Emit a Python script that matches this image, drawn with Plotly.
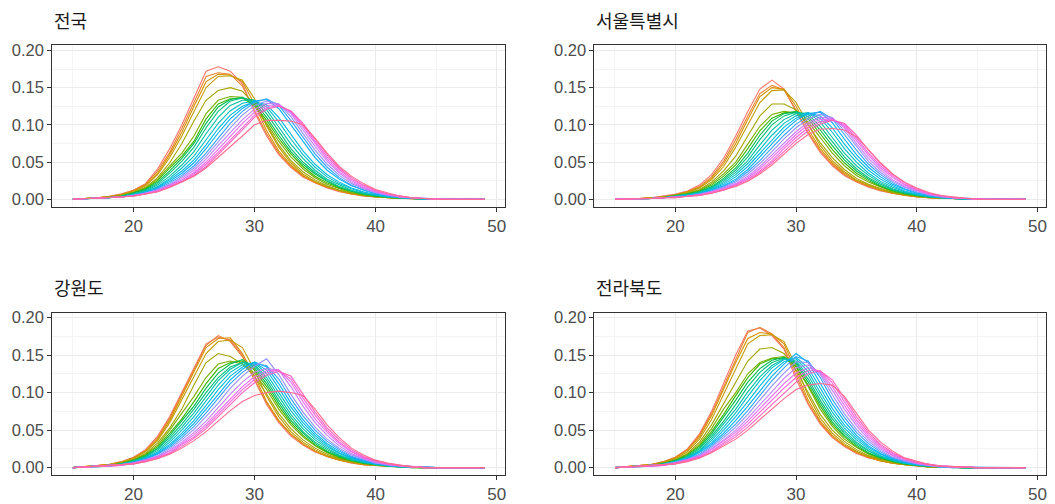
import plotly.graph_objects as go

# Single-year ages of mother
AGES = list(range(15, 50))
# One curve per year, oldest first
YEARS = list(range(2000, 2020))
# ggplot-style hue palette, one colour per year
PALETTE = ["#F8766D", "#EA8331", "#D89000", "#C09B00", "#A3A500", "#7CAE00",
           "#39B600", "#00BB4E", "#00BF7D", "#00C1A3", "#00BFC4", "#00BAE0",
           "#00B0F6", "#35A2FF", "#9590FF", "#C77CFF", "#E76BF3", "#FA62DB",
           "#FF62BC", "#FF6C91"]
REGIONS = ["전국", "서울특별시", "강원도", "전라북도"]
Y_TICKS = [0.00, 0.05, 0.10, 0.15, 0.20]
X_TICKS = [20, 30, 40, 50]

# Share of births by mother's age, per mille (rows = years, cols = ages 15..49)
NATIONAL = [
    [0,1,2,4,7,12,21,41,68,100,135,172,178,172,155,117,85,60,43,30,22,15,10,7,4,3,2,1,1,0,0,0,0,0,0],
    [0,1,2,4,7,12,20,38,63,95,130,165,170,168,152,120,88,62,44,31,22,16,11,7,5,3,2,1,1,0,0,0,0,0,0],
    [0,1,2,3,6,11,19,35,60,90,125,158,168,167,158,128,92,65,46,32,23,16,11,7,5,3,2,1,1,0,0,0,0,0,0],
    [0,1,2,3,6,10,18,33,56,85,118,150,165,166,160,135,98,70,49,34,24,17,12,8,5,3,2,1,1,0,0,0,0,0,0],
    [0,1,1,3,5,9,16,29,49,75,105,133,146,150,145,128,100,73,52,37,26,18,12,8,5,3,2,1,1,0,0,0,0,0,0],
    [0,1,1,3,5,9,15,27,45,62,85,115,133,138,137,125,102,78,57,41,29,20,14,9,6,4,2,1,1,0,0,0,0,0,0],
    [0,1,1,2,4,8,14,25,42,58,78,108,128,135,136,127,106,82,61,44,31,22,15,10,6,4,2,1,1,0,0,0,0,0,0],
    [0,1,1,2,4,8,13,23,38,55,75,102,124,134,137,130,110,86,64,47,34,24,16,11,7,4,3,2,1,0,0,0,0,0,0],
    [0,1,1,2,4,7,12,21,35,51,70,96,118,132,136,133,115,91,68,50,36,25,17,11,7,5,3,2,1,0,0,0,0,0,0],
    [0,1,1,2,4,7,11,19,31,46,64,88,110,126,133,133,120,97,74,55,39,27,19,12,8,5,3,2,1,0,0,0,0,0,0],
    [0,1,1,2,3,6,10,17,28,42,58,80,102,119,129,132,124,104,81,60,43,30,21,14,9,6,3,2,1,0,0,0,0,0,0],
    [0,1,1,2,3,6,10,16,26,38,53,73,95,113,125,131,127,110,87,65,47,33,23,15,10,6,4,2,1,1,0,0,0,0,0],
    [0,1,1,2,3,5,9,15,24,35,49,68,89,108,122,132,134,122,100,77,56,39,27,18,12,7,4,2,1,1,0,0,0,0,0],
    [0,1,1,2,3,5,8,14,22,32,45,62,82,102,118,130,135,126,106,83,61,43,29,19,12,8,5,3,1,1,0,0,0,0,0],
    [0,1,1,2,3,5,8,13,20,30,42,58,77,96,113,126,132,128,111,88,66,47,32,21,14,9,5,3,2,1,0,0,0,0,0],
    [0,1,1,2,3,5,8,12,19,28,39,54,72,90,107,121,129,128,115,93,71,51,35,23,15,9,6,3,2,1,0,0,0,0,0],
    [0,1,1,2,3,5,7,11,18,26,36,50,67,85,102,117,126,127,117,97,75,54,37,25,16,10,6,3,2,1,0,0,0,0,0],
    [0,1,1,2,3,5,7,11,17,24,34,47,63,80,97,113,123,126,118,100,78,57,40,27,18,11,7,4,2,1,0,0,0,0,0],
    [0,1,1,2,3,4,7,10,16,23,32,44,60,77,94,110,121,125,119,102,81,60,42,29,19,12,7,4,2,1,0,0,0,0,0],
    [0,1,1,2,3,4,7,10,16,23,31,42,56,70,85,100,106,106,105,100,82,62,44,31,21,13,8,4,2,1,0,0,0,0,0],
]

SEOUL = [
    [0,0,1,2,4,7,11,19,33,55,85,118,148,160,148,118,88,63,45,32,23,16,11,8,5,3,2,1,1,0,0,0,0,0,0],
    [0,0,1,2,3,6,10,17,30,51,80,112,142,153,147,120,90,65,47,33,24,17,12,8,5,3,2,1,1,0,0,0,0,0,0],
    [0,0,1,2,3,6,10,16,28,48,75,107,138,150,148,125,94,68,49,35,25,18,12,8,5,3,2,1,1,0,0,0,0,0,0],
    [0,0,1,2,3,5,9,15,26,44,70,100,130,146,147,130,100,72,52,37,26,19,13,9,6,4,2,1,1,0,0,0,0,0,0],
    [0,0,1,1,3,5,8,13,23,38,58,85,112,128,128,120,100,76,56,40,28,20,14,9,6,4,2,1,1,0,0,0,0,0,0],
    [0,0,1,1,3,5,8,12,21,34,50,74,98,114,118,116,104,83,62,45,32,23,16,10,7,4,3,2,1,0,0,0,0,0,0],
    [0,0,1,1,2,4,7,11,19,31,46,68,92,109,116,117,108,88,67,49,35,25,17,11,7,5,3,2,1,0,0,0,0,0,0],
    [0,0,1,1,2,4,7,10,17,28,42,62,86,105,115,118,111,93,72,53,38,27,18,12,8,5,3,2,1,0,0,0,0,0,0],
    [0,0,1,1,2,4,6,10,16,26,39,57,80,100,112,117,114,98,77,57,41,29,20,13,8,5,3,2,1,0,0,0,0,0,0],
    [0,0,1,1,2,4,6,9,15,24,36,52,73,93,107,115,116,104,83,62,45,32,22,14,9,6,3,2,1,0,0,0,0,0,0],
    [0,0,1,1,2,3,5,8,14,22,33,48,67,86,102,112,116,109,90,68,50,35,24,16,10,6,4,2,1,0,0,0,0,0,0],
    [0,0,1,1,2,3,5,8,13,20,30,44,62,80,97,109,116,112,96,74,55,39,27,18,11,7,4,2,1,1,0,0,0,0,0],
    [0,0,1,1,2,3,5,7,12,18,27,40,57,75,92,106,115,117,103,81,60,43,30,20,13,8,5,3,1,1,0,0,0,0,0],
    [0,0,1,1,2,3,5,7,11,17,25,37,52,69,86,101,112,118,108,87,66,47,33,22,14,9,5,3,2,1,0,0,0,0,0],
    [0,0,1,1,2,3,4,7,10,16,23,34,48,64,81,96,108,114,110,92,71,51,36,24,16,10,6,3,2,1,0,0,0,0,0],
    [0,0,1,1,2,3,4,6,10,15,21,31,44,60,76,91,103,110,109,96,75,55,39,26,17,11,6,4,2,1,0,0,0,0,0],
    [0,0,1,1,2,3,4,6,9,14,20,29,41,56,72,87,100,107,108,98,79,59,42,29,19,12,7,4,2,1,0,0,0,0,0],
    [0,0,1,1,2,3,4,6,9,13,19,27,38,52,68,83,96,104,107,100,82,62,45,31,20,13,8,4,2,1,0,0,0,0,0],
    [0,0,1,1,2,2,4,5,8,12,18,25,36,49,64,79,92,101,106,102,86,66,48,33,22,14,8,5,2,1,0,0,0,0,0],
    [0,0,1,1,2,2,4,5,8,12,17,24,34,46,60,75,87,94,95,93,84,66,49,34,23,15,9,5,3,1,0,0,0,0,0],
]

GANGWON = [
    [0,1,2,4,8,14,24,42,68,100,132,165,174,170,150,116,84,60,42,30,21,15,10,6,4,3,2,1,0,0,0,0,0,0,0],
    [0,1,2,4,8,13,23,40,66,98,130,163,176,168,148,118,86,62,44,31,22,15,10,7,4,3,2,1,0,0,0,0,0,0,0],
    [0,1,2,4,7,13,22,38,63,95,128,160,172,173,152,122,88,63,45,32,22,15,10,7,4,3,2,1,0,0,0,0,0,0,0],
    [0,1,2,4,7,12,21,36,60,90,122,152,168,170,160,130,95,68,48,34,24,16,11,7,5,3,2,1,0,0,0,0,0,0,0],
    [0,1,1,3,6,11,19,33,53,78,110,140,152,148,138,122,98,72,52,37,26,18,12,8,5,3,2,1,0,0,0,0,0,0,0],
    [0,1,1,3,6,10,18,30,50,72,95,120,138,142,138,126,104,78,57,41,29,20,13,9,6,4,2,1,0,0,0,0,0,0,0],
    [0,1,1,3,5,10,17,28,46,65,88,112,132,140,142,130,108,82,60,43,30,21,14,9,6,4,2,1,0,0,0,0,0,0,0],
    [0,1,1,3,5,9,16,26,43,62,82,106,126,138,144,133,112,86,63,46,32,22,15,10,6,4,2,1,0,0,0,0,0,0,0],
    [0,1,1,2,5,9,15,25,40,58,78,100,120,134,140,136,116,90,67,48,34,24,16,10,7,4,2,1,0,0,0,0,0,0,0],
    [0,1,1,2,5,8,14,23,37,54,73,95,116,131,140,138,120,95,71,52,37,26,17,11,7,4,3,1,1,0,0,0,0,0,0],
    [0,1,1,2,4,8,13,21,34,50,68,89,110,127,137,140,125,100,76,56,40,28,19,12,8,5,3,1,1,0,0,0,0,0,0],
    [0,1,1,2,4,7,12,20,31,46,63,83,104,122,134,140,130,106,81,60,43,30,20,13,8,5,3,2,1,0,0,0,0,0,0],
    [0,1,1,2,4,7,12,19,29,43,59,78,98,117,131,141,134,112,86,64,46,32,22,14,9,5,3,2,1,0,0,0,0,0,0],
    [0,1,1,2,4,7,11,18,27,40,55,73,92,112,127,138,136,118,92,69,50,35,24,15,10,6,3,2,1,0,0,0,0,0,0],
    [0,1,1,2,4,6,10,16,25,37,51,68,86,106,122,135,145,124,98,74,54,38,26,17,11,6,4,2,1,0,0,0,0,0,0],
    [0,1,1,2,3,6,10,15,23,34,47,62,80,98,114,127,132,130,108,82,60,43,29,19,12,7,4,2,1,0,0,0,0,0,0],
    [0,1,1,2,3,6,9,14,22,32,44,58,75,92,108,121,129,130,114,88,65,47,32,21,13,8,5,2,1,0,0,0,0,0,0],
    [0,1,1,2,3,5,9,13,20,30,41,55,71,88,104,117,126,130,118,93,70,50,34,22,14,9,5,3,1,0,0,0,0,0,0],
    [0,1,1,2,3,5,8,13,19,28,39,52,68,84,100,113,123,128,122,98,74,53,37,24,15,9,5,3,1,0,0,0,0,0,0],
    [0,1,1,2,3,5,8,12,18,26,36,48,62,76,88,96,100,102,100,96,78,57,40,26,17,10,6,3,1,0,0,0,0,0,0],
]

JEONBUK = [
    [0,1,2,4,8,14,25,45,75,112,150,182,186,176,158,118,84,58,40,28,19,13,9,6,4,2,1,1,0,0,0,0,0,0,0],
    [0,1,2,4,8,14,24,43,72,108,146,180,187,178,160,122,86,60,41,29,20,14,9,6,4,2,1,1,0,0,0,0,0,0,0],
    [0,1,2,4,7,13,23,41,69,104,140,172,180,178,165,128,90,62,43,30,21,14,9,6,4,2,1,1,0,0,0,0,0,0,0],
    [0,1,2,4,7,12,21,38,64,97,132,165,176,177,168,135,96,66,46,32,22,15,10,6,4,2,1,1,0,0,0,0,0,0,0],
    [0,1,1,3,6,11,19,34,57,86,115,142,158,160,152,130,100,71,50,35,24,16,11,7,4,3,1,1,0,0,0,0,0,0,0],
    [0,1,1,3,6,10,18,31,52,78,100,125,140,146,148,134,108,78,55,38,27,18,12,8,5,3,1,1,0,0,0,0,0,0,0],
    [0,1,1,3,5,10,17,29,48,71,96,120,138,145,146,135,110,82,58,41,28,19,13,8,5,3,2,1,0,0,0,0,0,0,0],
    [0,1,1,3,5,9,16,27,45,67,90,114,132,143,147,138,114,86,61,43,30,20,13,9,5,3,2,1,0,0,0,0,0,0,0],
    [0,1,1,2,5,9,15,25,42,62,84,108,127,140,146,140,118,90,65,46,32,22,14,9,6,3,2,1,0,0,0,0,0,0,0],
    [0,1,1,2,5,8,14,23,39,58,78,101,121,136,145,142,123,95,69,49,34,23,15,10,6,4,2,1,0,0,0,0,0,0,0],
    [0,1,1,2,4,8,13,22,36,54,73,95,116,133,144,145,128,100,74,53,37,25,16,10,6,4,2,1,0,0,0,0,0,0,0],
    [0,1,1,2,4,8,13,21,33,50,68,88,109,128,141,147,133,106,79,57,40,27,18,11,7,4,2,1,0,0,0,0,0,0,0],
    [0,1,1,2,4,7,12,20,31,46,63,82,102,122,138,152,140,113,85,62,43,29,19,12,7,4,2,1,1,0,0,0,0,0,0],
    [0,1,1,2,4,7,11,18,29,43,58,76,96,116,133,148,142,120,91,67,47,32,21,13,8,5,3,1,1,0,0,0,0,0,0],
    [0,1,1,2,4,7,11,17,27,40,54,71,90,109,126,141,140,124,97,72,51,35,23,14,9,5,3,1,1,0,0,0,0,0,0],
    [0,1,1,2,3,6,10,16,25,37,50,66,84,102,119,133,137,126,103,78,56,38,25,16,10,6,3,2,1,0,0,0,0,0,0],
    [0,1,1,2,3,6,10,15,24,35,47,62,79,96,112,126,133,128,108,83,60,41,27,17,11,6,3,2,1,0,0,0,0,0,0],
    [0,1,1,2,3,6,9,14,22,33,44,58,74,90,106,120,129,129,113,88,64,44,29,19,12,7,4,2,1,0,0,0,0,0,0],
    [0,1,1,2,3,5,9,13,21,31,41,54,69,85,100,114,125,129,117,93,68,47,31,20,12,7,4,2,1,0,0,0,0,0,0],
    [0,1,1,2,3,5,8,13,20,29,38,50,64,78,92,104,110,112,110,95,72,50,34,22,13,8,4,2,1,0,0,0,0,0,0],
]

TABLES = [NATIONAL, SEOUL, GANGWON, JEONBUK]

# Panel placement (paper coordinates) for the 2 x 2 grid
X_DOMAINS = [[0.0496, 0.4793], [0.5640, 0.9924], [0.0496, 0.4793], [0.5640, 0.9924]]
Y_DOMAINS = [[0.5933, 0.9167], [0.5933, 0.9167], [0.0542, 0.3804], [0.0542, 0.3804]]

TICK_FONT = "Liberation Sans, Arial, sans-serif"

fig = go.Figure()

for p, (table, region) in enumerate(zip(TABLES, REGIONS)):
    suffix = "" if p == 0 else str(p + 1)
    for row, year, colour in zip(table, YEARS, PALETTE):
        fig.add_trace(go.Scatter(
            x=AGES,
            y=[v / 1000 for v in row],
            mode="lines",
            line=dict(color=colour, width=1.1),
            name=str(year),
            showlegend=False,
            xaxis="x" + suffix,
            yaxis="y" + suffix,
            hovertemplate=region + " " + str(year) + "<br>%{x}세: %{y:.3f}<extra></extra>",
        ))

    axis_common = dict(
        showline=True, linecolor="#333333", linewidth=1, mirror=True,
        ticks="outside", ticklen=4, tickwidth=1, tickcolor="#333333",
        showgrid=True, gridcolor="#EBEBEB", gridwidth=1,
        zeroline=False,
    )
    fig.layout["xaxis" + suffix] = dict(
        axis_common,
        domain=X_DOMAINS[p], anchor="y" + suffix,
        range=[13.3, 50.7], tickvals=X_TICKS,
        minor=dict(tickvals=[15, 25, 35, 45], showgrid=True, gridcolor="#F4F4F4", gridwidth=0.7, ticks=""),
        tickfont=dict(family=TICK_FONT, color="#4D4D4D", size=17),
    )
    fig.layout["yaxis" + suffix] = dict(
        axis_common,
        domain=Y_DOMAINS[p], anchor="x" + suffix,
        range=[-0.0098, 0.2066], tickvals=Y_TICKS, tickformat=".2f",
        minor=dict(tickvals=[0.025, 0.075, 0.125, 0.175], showgrid=True, gridcolor="#F4F4F4", gridwidth=0.7, ticks=""),
        tickfont=dict(family=TICK_FONT, color="#4D4D4D", size=16.5),
    )
    fig.add_annotation(
        text=region, xref="paper", yref="paper",
        x=X_DOMAINS[p][0], y=Y_DOMAINS[p][1] + 0.052,
        xanchor="left", yanchor="middle", showarrow=False,
        font=dict(family="Noto Sans CJK KR, sans-serif", size=18, color="#1A1A1A"),
    )

fig.update_layout(
    width=1055, height=504,
    margin=dict(l=0, r=0, t=0, b=0),
    paper_bgcolor="white", plot_bgcolor="white",
)

fig.write_html("out.html")
